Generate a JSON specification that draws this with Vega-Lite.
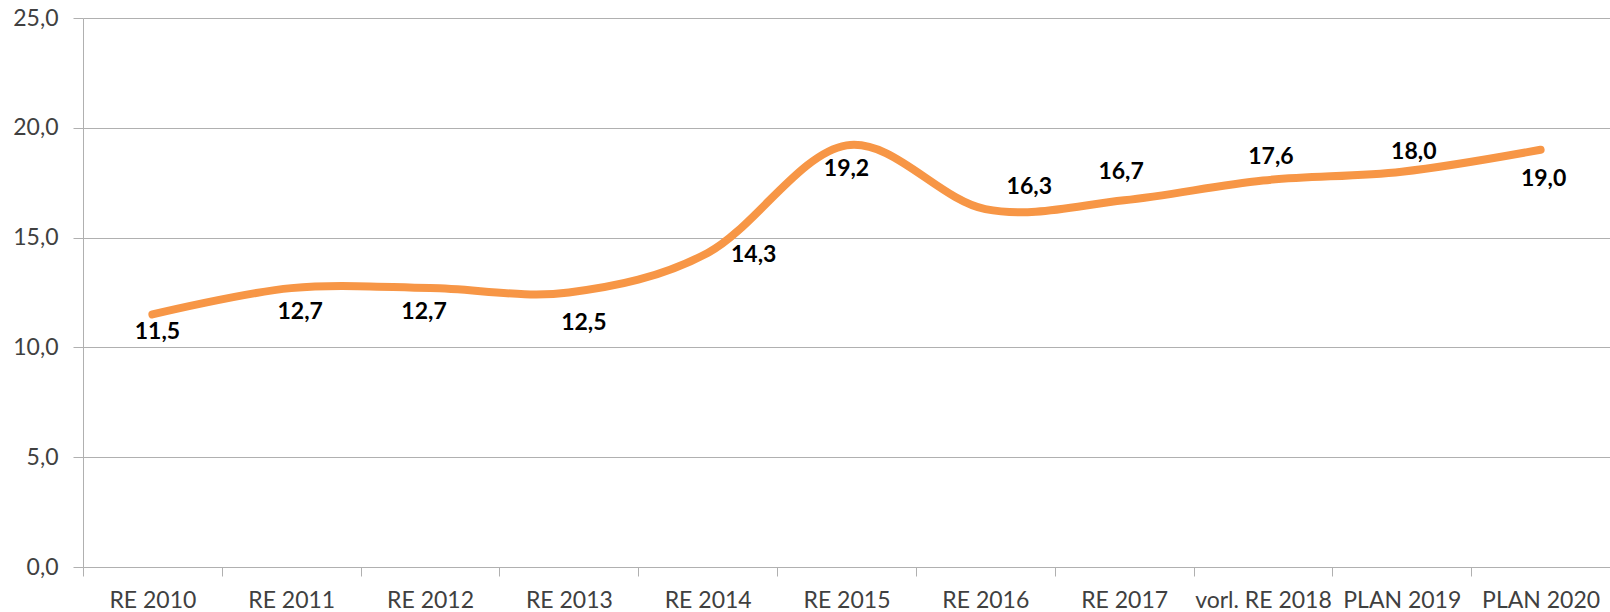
{
  "$schema": "https://vega.github.io/schema/vega-lite/v6.json",
  "width": 1527,
  "height": 549,
  "autosize": {"type": "none"},
  "padding": {"left": 83, "top": 18, "right": 0, "bottom": 45},
  "background": "white",
  "config": {
    "view": {"stroke": null},
    "font": "Lato",
    "locale": {"number": {"decimal": ",", "thousands": ".", "grouping": [3], "currency": ["", " €"]}}
  },
  "data": {
    "values": [
      {"cat": "RE 2010", "value": 11.5},
      {"cat": "RE 2011", "value": 12.7},
      {"cat": "RE 2012", "value": 12.7},
      {"cat": "RE 2013", "value": 12.5},
      {"cat": "RE 2014", "value": 14.3},
      {"cat": "RE 2015", "value": 19.2},
      {"cat": "RE 2016", "value": 16.3},
      {"cat": "RE 2017", "value": 16.7},
      {"cat": "vorl. RE 2018", "value": 17.6},
      {"cat": "PLAN 2019", "value": 18.0},
      {"cat": "PLAN 2020", "value": 19.0}
    ]
  },
  "encoding": {
    "x": {
      "field": "cat", "type": "nominal", "sort": null, "bandPosition": 0.5,
      "scale": {"type": "band", "paddingInner": 0, "paddingOuter": 0},
      "axis": {"title": null, "labelAngle": 0, "tickBand": "extent", "tickSize": 9, "tickColor": "#b0b0b0", "domainColor": "#b0b0b0", "labelFont": "Lato", "labelFontSize": 23, "labelColor": "#404040", "labelPadding": 13, "grid": false, "labelOverlap": false}
    },
    "y": {
      "field": "value", "type": "quantitative",
      "scale": {"domain": [0, 25], "nice": false, "zero": true},
      "axis": {"title": null, "values": [0, 5, 10, 15, 20, 25], "format": ".1f", "grid": true, "gridColor": "#b0b0b0", "tickSize": 10, "tickColor": "#b0b0b0", "domainColor": "#b0b0b0", "labelFont": "Lato", "labelFontSize": 23, "labelColor": "#404040", "labelPadding": 15}
    }
  },
  "layer": [
    {"mark": {"type": "line", "interpolate": "cardinal", "tension": 0, "strokeWidth": 8, "color": "#F79646", "strokeCap": "round", "strokeJoin": "round"}},
    {"transform": [{"filter": {"field": "cat", "equal": "RE 2010"}}], "mark": {"type": "text", "font": "Lato", "fontWeight": "bold", "fontSize": 23, "color": "black", "baseline": "middle", "dx": 5, "dy": 18}, "encoding": {"text": {"field": "value", "type": "quantitative", "format": ".1f"}}},
    {"transform": [{"filter": {"field": "cat", "equal": "RE 2011"}}], "mark": {"type": "text", "font": "Lato", "fontWeight": "bold", "fontSize": 23, "color": "black", "baseline": "middle", "dx": 9, "dy": 24}, "encoding": {"text": {"field": "value", "type": "quantitative", "format": ".1f"}}},
    {"transform": [{"filter": {"field": "cat", "equal": "RE 2012"}}], "mark": {"type": "text", "font": "Lato", "fontWeight": "bold", "fontSize": 23, "color": "black", "baseline": "middle", "dx": -6, "dy": 24}, "encoding": {"text": {"field": "value", "type": "quantitative", "format": ".1f"}}},
    {"transform": [{"filter": {"field": "cat", "equal": "RE 2013"}}], "mark": {"type": "text", "font": "Lato", "fontWeight": "bold", "fontSize": 23, "color": "black", "baseline": "middle", "dx": 15, "dy": 30}, "encoding": {"text": {"field": "value", "type": "quantitative", "format": ".1f"}}},
    {"transform": [{"filter": {"field": "cat", "equal": "RE 2014"}}], "mark": {"type": "text", "font": "Lato", "fontWeight": "bold", "fontSize": 23, "color": "black", "baseline": "middle", "dx": 46, "dy": 2}, "encoding": {"text": {"field": "value", "type": "quantitative", "format": ".1f"}}},
    {"transform": [{"filter": {"field": "cat", "equal": "RE 2015"}}], "mark": {"type": "text", "font": "Lato", "fontWeight": "bold", "fontSize": 23, "color": "black", "baseline": "middle", "dx": 0, "dy": 24}, "encoding": {"text": {"field": "value", "type": "quantitative", "format": ".1f"}}},
    {"transform": [{"filter": {"field": "cat", "equal": "RE 2016"}}], "mark": {"type": "text", "font": "Lato", "fontWeight": "bold", "fontSize": 23, "color": "black", "baseline": "middle", "dx": 44, "dy": -22}, "encoding": {"text": {"field": "value", "type": "quantitative", "format": ".1f"}}},
    {"transform": [{"filter": {"field": "cat", "equal": "RE 2017"}}], "mark": {"type": "text", "font": "Lato", "fontWeight": "bold", "fontSize": 23, "color": "black", "baseline": "middle", "dx": -3, "dy": -28}, "encoding": {"text": {"field": "value", "type": "quantitative", "format": ".1f"}}},
    {"transform": [{"filter": {"field": "cat", "equal": "vorl. RE 2018"}}], "mark": {"type": "text", "font": "Lato", "fontWeight": "bold", "fontSize": 23, "color": "black", "baseline": "middle", "dx": 8, "dy": -24}, "encoding": {"text": {"field": "value", "type": "quantitative", "format": ".1f"}}},
    {"transform": [{"filter": {"field": "cat", "equal": "PLAN 2019"}}], "mark": {"type": "text", "font": "Lato", "fontWeight": "bold", "fontSize": 23, "color": "black", "baseline": "middle", "dx": 12, "dy": -20}, "encoding": {"text": {"field": "value", "type": "quantitative", "format": ".1f"}}},
    {"transform": [{"filter": {"field": "cat", "equal": "PLAN 2020"}}], "mark": {"type": "text", "font": "Lato", "fontWeight": "bold", "fontSize": 23, "color": "black", "baseline": "middle", "dx": 3, "dy": 29}, "encoding": {"text": {"field": "value", "type": "quantitative", "format": ".1f"}}}
  ]
}
